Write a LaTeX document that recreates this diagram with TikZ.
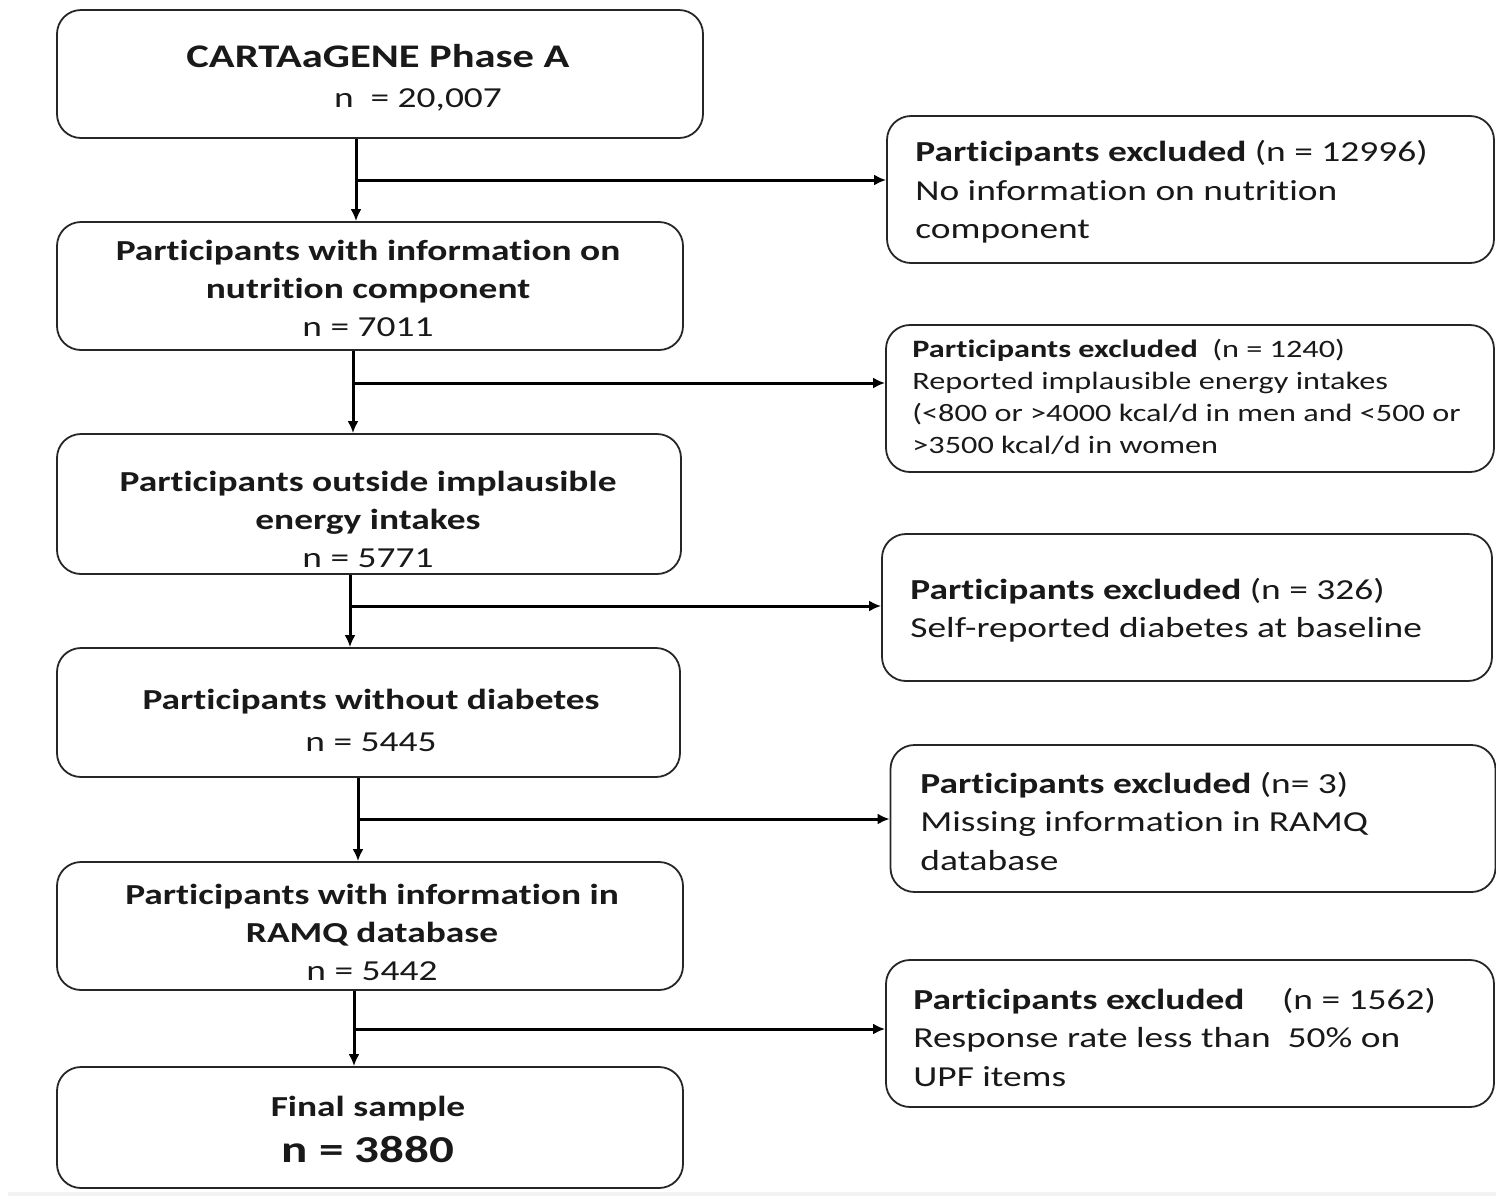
\documentclass[tikz,border=0pt]{standalone}
\usepackage{fontspec}
\setmainfont{Carlito}[FakeStretch=1.29, Ligatures=NoCommon]
\usetikzlibrary{arrows.meta}
\tikzset{
  x=0.5pt, y=-0.5pt,
  box/.style={draw=black!85, line width=0.9pt, rounded corners=12pt, inner sep=0pt},
  ltxt/.style={align=center, inner sep=0pt, text=black!90, font=\fontsize{14.5}{19}\selectfont},
  rtxt/.style={align=flush left, inner sep=0pt, anchor=west, text=black!90, font=\fontsize{14.5}{19.25}\selectfont},
  conn/.style={line width=1.5pt, black},
  arr/.style={conn, -{Latex[length=6pt,width=5.5pt]}},
}
\begin{document}
\begin{tikzpicture}
\useasboundingbox (0,0) rectangle (1496,1196);
\fill[black!5] (8,1192) rectangle (1496,1196);

% left column boxes
\node[box, minimum width=323pt, minimum height=64pt] (b1) at (380,74) {};
\node[box, minimum width=313pt, minimum height=64pt] (b2) at (370,286) {};
\node[box, minimum width=312pt, minimum height=70pt] (b3) at (369,504) {};
\node[box, minimum width=311.5pt, minimum height=64.5pt] (b4) at (368.5,712.5) {};
\node[box, minimum width=313pt, minimum height=64pt] (b5) at (370,926) {};
\node[box, minimum width=313pt, minimum height=60.5pt] (b6) at (370,1127.5) {};

% left column texts
\node[ltxt] (t1) at (378,78)
  {{\fontsize{16.5}{20.5}\selectfont\bfseries CARTAaGENE Phase A}\\[1pt]\hspace*{40pt}n \ = 20,007};
\node[ltxt] (t2) at (368,288)
  {\textbf{Participants with information on}\\\textbf{nutrition component}\\n = 7011};
\node[ltxt] (t3) at (368,519)
  {\textbf{Participants outside implausible}\\\textbf{energy intakes}\\n = 5771};
\node[ltxt] (t4) at (371,720.5)
  {\textbf{Participants without diabetes}\\[2pt]n = 5445};
\node[ltxt] (t5) at (372,932)
  {\textbf{Participants with information in}\\\textbf{RAMQ database}\\n = 5442};
\node[ltxt] (t6) at (368,1129)
  {\textbf{Final sample}\\[4pt]{\fontsize{19}{22}\selectfont\bfseries n = 3880}};

% right column boxes
\node[box, minimum width=303.5pt, minimum height=73.5pt] (r1) at (1190.5,189.5) {};
\node[box, minimum width=304pt, minimum height=73.5pt] (r2) at (1190,398.5) {};
\node[box, minimum width=305pt, minimum height=73.5pt] (r3) at (1187,607.5) {};
\node[box, minimum width=302.5pt, minimum height=73.5pt] (r4) at (1193,818.5) {};
\node[box, minimum width=304pt, minimum height=73.5pt] (r5) at (1190,1033.5) {};

% right column texts
\node[rtxt] (s1) at (915,192)
  {\textbf{Participants excluded} (n = 12996)\\No information on nutrition\\component};
\node[rtxt, font=\fontsize{12.5}{16}\selectfont] (s2) at (912,397)
  {\textbf{Participants excluded}\ \ (n = 1240)\\Reported implausible energy intakes\\(<800 or >4000 kcal/d in men and <500 or\\>3500 kcal/d in women};
\node[rtxt] (s3) at (910,610)
  {\textbf{Participants excluded} (n = 326)\\Self-reported diabetes at baseline};
\node[rtxt] (s4) at (920,821)
  {\textbf{Participants excluded} (n= 3)\\Missing information in RAMQ\\database};
\node[rtxt] (s5) at (913,1037)
  {\textbf{Participants excluded}\hspace{1.3em}(n = 1562)\\Response rate less than\ \ 50\% on\\UPF items};

% connectors
\coordinate (v1) at (356,180);
\coordinate (v2) at (353,383);
\coordinate (v3) at (350,606);
\coordinate (v4) at (358,819);
\coordinate (v5) at (354,1029);

\draw[arr] (b1.south -| v1) -- (b2.north -| v1);
\draw[arr] (v1) -- (v1 -| r1.west);
\draw[arr] (b2.south -| v2) -- (b3.north -| v2);
\draw[arr] (v2) -- (v2 -| r2.west);
\draw[arr] (b3.south -| v3) -- (b4.north -| v3);
\draw[arr] (v3) -- (v3 -| r3.west);
\draw[arr] (b4.south -| v4) -- (b5.north -| v4);
\draw[arr] (v4) -- (v4 -| r4.west);
\draw[arr] (b5.south -| v5) -- (b6.north -| v5);
\draw[arr] (v5) -- (v5 -| r5.west);
\end{tikzpicture}
\end{document}
